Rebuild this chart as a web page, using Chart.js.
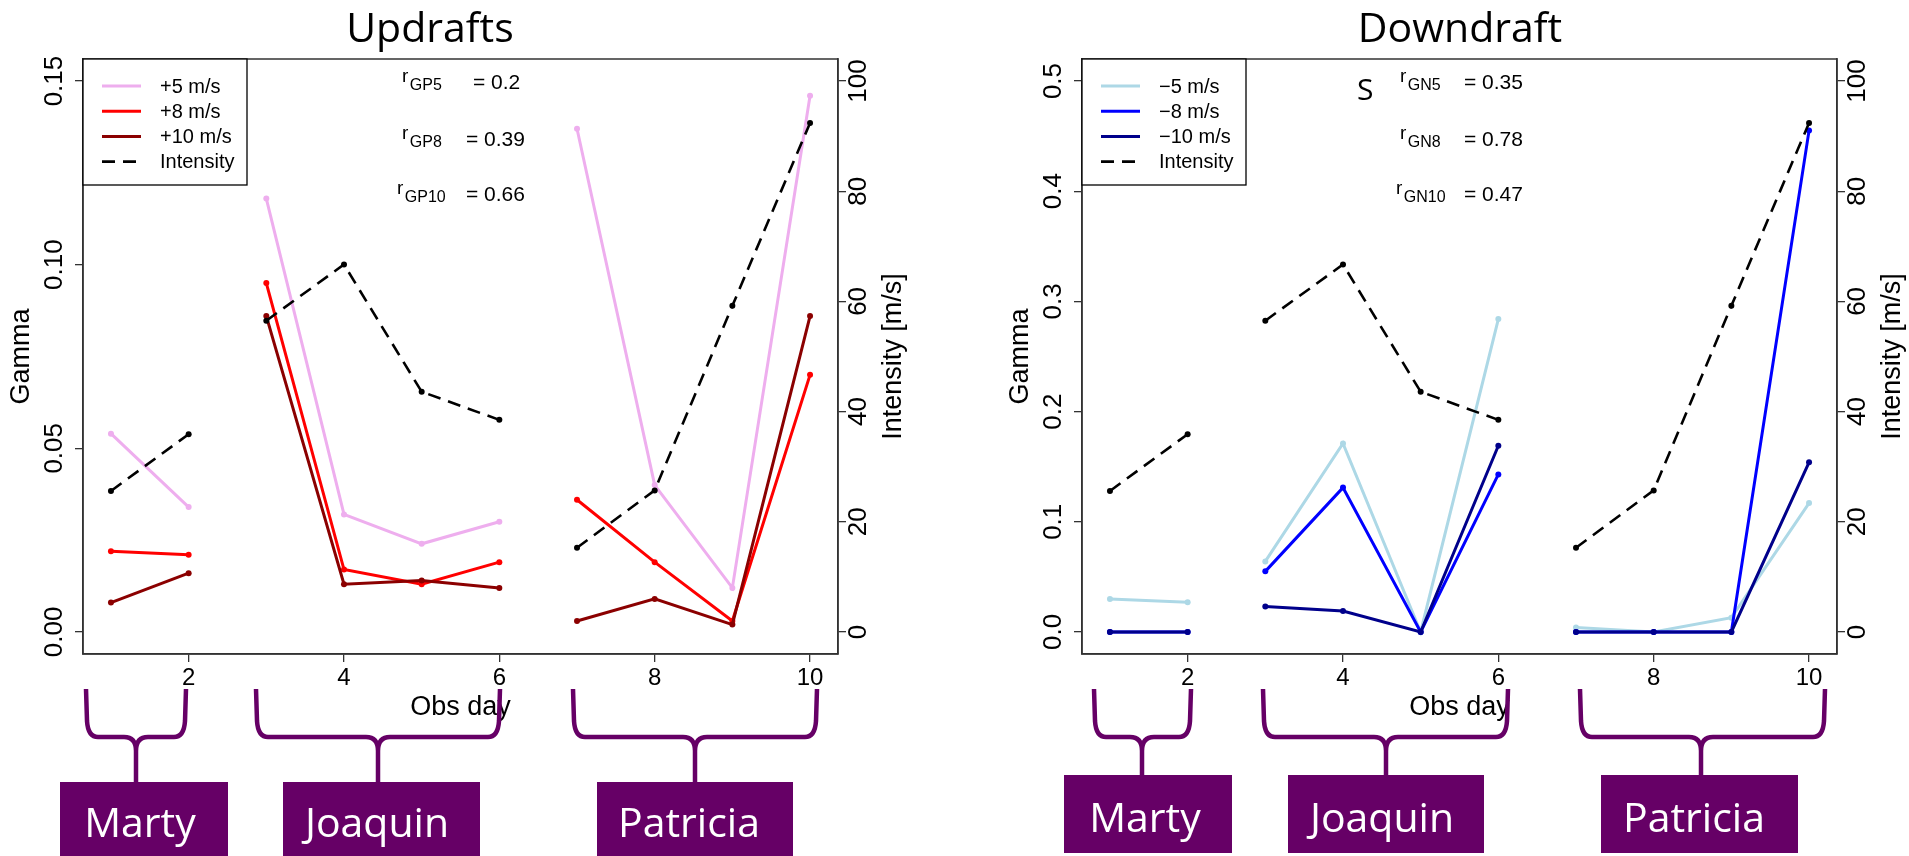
<!DOCTYPE html>
<html>
<head>
<meta charset="utf-8">
<title>Gamma vs intensity: updrafts and downdrafts</title>
<script src="https://cdn.jsdelivr.net/npm/chart.js@4.4.1/dist/chart.umd.min.js"></script>
<style>
  html, body { margin: 0; padding: 0; background: #fff; }
  body { position: relative; width: 1909px; height: 856px; overflow: hidden; }
  .panel { position: absolute; top: 0; }
  #overlay { position: absolute; left: 0; top: 0; pointer-events: none; }
</style>
</head>
<body>
<canvas class="panel" id="updrafts" width="910" height="856" style="left:0px"></canvas>
<canvas class="panel" id="downdrafts" width="910" height="856" style="left:999px"></canvas>
<svg id="overlay" width="1909" height="856" xmlns="http://www.w3.org/2000/svg"></svg>

<script>
// ---- observations ----
const obsDays = [1, 2, 3, 4, 5, 6, 7, 8, 9, 10];
const stormOfDay = ['Marty', 'Marty', 'Joaquin', 'Joaquin', 'Joaquin', 'Joaquin',
                    'Patricia', 'Patricia', 'Patricia', 'Patricia'];
const storms = ['Marty', 'Joaquin', 'Patricia'];

// storm intensity [m/s]
const intensity = [25.6, 35.9, 56.5, 66.7, 43.6, 38.5, 15.3, 25.7, 59.2, 92.4];

// gamma for updraft thresholds
const updraft5  = [0.054, 0.034, 0.118, 0.032, 0.024, 0.030, 0.137, 0.040, 0.012, 0.146];
const updraft8  = [0.022, 0.021, 0.095, 0.017, 0.013, 0.019, 0.036, 0.019, 0.003, 0.070];
const updraft10 = [0.008, 0.016, 0.086, 0.013, 0.014, 0.012, 0.003, 0.009, 0.002, 0.086];

// gamma for downdraft thresholds
const downdraft5  = [0.030, 0.027, 0.064, 0.171, 0.000, 0.284, 0.004, 0.000, 0.013, 0.117];
const downdraft8  = [0.000, 0.000, 0.055, 0.131, 0.000, 0.143, 0.000, 0.000, 0.000, 0.455];
const downdraft10 = [0.000, 0.000, 0.023, 0.019, 0.000, 0.169, 0.000, 0.000, 0.000, 0.154];

// correlation of gamma with intensity
const updraftCorrNames   = ['GP5', 'GP8', 'GP10'];
const updraftCorrValues  = ['0.2', '0.39', '0.66'];
const downdraftCorrNames  = ['GN5', 'GN8', 'GN10'];
const downdraftCorrValues = ['0.35', '0.78', '0.47'];

// axis ticks
const dayTicks = [2, 4, 6, 8, 10];
const updraftGammaTicks = [0, 0.05, 0.10, 0.15];
const downdraftGammaTicks = [0, 0.1, 0.2, 0.3, 0.4, 0.5];
const intensityTicks = [0, 20, 40, 60, 80, 100];

// ---- styling ----
const SANS = '"Liberation Sans", Arial, Helvetica, sans-serif';
const HUMANIST = '"Open Sans", Lato, sans-serif';
const PURPLE = '#660066';
const AXIS_GREY = '#333';

Chart.defaults.font.family = SANS;
Chart.defaults.color = '#000';

const points = values => obsDays.map((d, i) => ({ x: d, y: values[i] }));

// lines are only joined within the same storm
const stormSegments = {
  borderColor: ctx => stormOfDay[ctx.p0DataIndex] === stormOfDay[ctx.p1DataIndex]
    ? undefined : 'rgba(0,0,0,0)'
};

function gammaLine(label, values, color, order) {
  return {
    label, data: points(values), yAxisID: 'y',
    borderColor: color, backgroundColor: color, borderWidth: 3,
    pointRadius: 3, pointHoverRadius: 3, pointBorderWidth: 0,
    pointBackgroundColor: color, tension: 0, fill: false,
    order, segment: stormSegments
  };
}

function intensityLine() {
  return {
    label: 'Intensity', data: points(intensity), yAxisID: 'y1',
    borderColor: '#000', backgroundColor: '#000', borderWidth: 2.6,
    borderDash: [13, 8], pointRadius: 3, pointHoverRadius: 3,
    pointBorderWidth: 0, pointBackgroundColor: '#000', tension: 0,
    fill: false, order: 0, segment: stormSegments
  };
}

// frame, title, legend, correlation notes and right axis title
const panelDecor = {
  id: 'panelDecor',
  afterDatasetsDraw(chart, args, o) {
    const { ctx, chartArea: a } = chart;
    ctx.save();

    // plot frame
    ctx.strokeStyle = AXIS_GREY;
    ctx.lineWidth = 1.5;
    ctx.strokeRect(a.left, a.top, a.right - a.left, a.bottom - a.top);

    // panel title
    ctx.fillStyle = '#000';
    ctx.font = '41px ' + HUMANIST;
    ctx.textAlign = 'center';
    ctx.textBaseline = 'alphabetic';
    ctx.fillText(o.title, o.titleX, 42);

    // legend box in the top-left corner of the plot
    const lw = 164, lh = 126;
    ctx.fillStyle = '#fff';
    ctx.fillRect(a.left, a.top, lw, lh);
    ctx.strokeStyle = '#000';
    ctx.lineWidth = 1.3;
    ctx.strokeRect(a.left, a.top, lw, lh);
    ctx.font = '20px ' + SANS;
    ctx.textAlign = 'left';
    ctx.textBaseline = 'middle';
    chart.data.datasets.forEach((ds, i) => {
      const y = a.top + 27 + i * 25.2;
      ctx.strokeStyle = ds.borderColor;
      ctx.lineWidth = ds.borderWidth;
      ctx.setLineDash(ds.borderDash || []);
      ctx.beginPath();
      ctx.moveTo(a.left + 19, y);
      ctx.lineTo(a.left + 58, y);
      ctx.stroke();
      ctx.setLineDash([]);
      ctx.fillStyle = '#000';
      ctx.fillText(ds.label, a.left + 77, y + 1);
    });

    // correlation notes
    ctx.textBaseline = 'alphabetic';
    o.corrNames.forEach((name, i) => {
      const base = o.corrBase[i];
      const rx = o.corrRX[i];
      ctx.font = '19px ' + SANS;
      ctx.fillText('r', rx, base - 7);
      const rw = ctx.measureText('r').width;
      ctx.font = '16px ' + SANS;
      ctx.fillText(name, rx + rw + 1.5, base + 1);
      ctx.font = '21px ' + SANS;
      ctx.fillText('= ' + o.corrValues[i], o.corrEqX[i], base);
    });
    if (o.mark) {
      ctx.font = '30px ' + HUMANIST;
      ctx.fillText(o.mark.text, o.mark.x, o.mark.y);
    }

    // right axis title, reading bottom to top
    ctx.translate(894, (a.top + a.bottom) / 2);
    ctx.rotate(-Math.PI / 2);
    ctx.textAlign = 'center';
    ctx.textBaseline = 'middle';
    ctx.font = '27px ' + SANS;
    ctx.fillText(o.rightTitle, 0, 0);
    ctx.restore();
  }
};

function fixedTicks(list) {
  return scale => { scale.ticks = list.map(v => ({ value: v })); };
}

function panelOptions(gammaMin, gammaMax, gammaTicks, gammaDecimals, gammaPad, decor) {
  const tickGrid = {
    display: true, drawOnChartArea: false, drawTicks: true,
    tickLength: 8, color: AXIS_GREY, lineWidth: 1.3
  };
  return {
    responsive: false, animation: false, events: [],
    layout: { padding: { left: 0, right: 0, top: 59, bottom: 102 } },
    plugins: {
      legend: { display: false }, tooltip: { enabled: false },
      title: { display: false }, panelDecor: decor
    },
    scales: {
      x: {
        type: 'linear', position: 'bottom', min: 0.64, max: 10.36,
        afterBuildTicks: fixedTicks(dayTicks),
        afterFit: s => { s.height = 100; },
        grid: tickGrid,
        border: { display: true, color: AXIS_GREY, width: 1.5 },
        ticks: { font: { size: 24 }, color: '#000', padding: 2, maxRotation: 0, minRotation: 0 },
        title: { display: true, text: 'Obs day', font: { size: 27 }, color: '#000',
                 padding: { top: 0, bottom: 30 } }
      },
      y: {
        type: 'linear', position: 'left', min: gammaMin, max: gammaMax,
        afterBuildTicks: fixedTicks(gammaTicks),
        afterFit: s => { s.width = 83; },
        grid: tickGrid,
        border: { display: true, color: AXIS_GREY, width: 1.5 },
        ticks: { font: { size: 26 }, color: '#000', minRotation: 90, maxRotation: 90,
                 crossAlign: 'center', padding: gammaPad,
                 callback: v => Number(v).toFixed(gammaDecimals) },
        title: { display: true, text: 'Gamma', font: { size: 27 }, color: '#000',
                 padding: { top: 5, bottom: 0 } }
      },
      y1: {
        type: 'linear', position: 'right', min: -4, max: 104,
        afterBuildTicks: fixedTicks(intensityTicks),
        afterFit: s => { s.width = 72; },
        grid: tickGrid,
        border: { display: true, color: AXIS_GREY, width: 1.5 },
        ticks: { font: { size: 26 }, color: '#000', minRotation: 90, maxRotation: 90,
                 crossAlign: 'center', padding: -8.7, callback: v => String(v) },
        title: { display: false }
      }
    }
  };
}

new Chart(document.getElementById('updrafts'), {
  type: 'line',
  data: {
    datasets: [
      gammaLine('+5 m/s', updraft5, '#EEAEEE', 3),
      gammaLine('+8 m/s', updraft8, '#FF0000', 2),
      gammaLine('+10 m/s', updraft10, '#8B0000', 1),
      intensityLine()
    ]
  },
  options: panelOptions(-0.006, 0.156, updraftGammaTicks, 2, -5.3, {
    title: 'Updrafts', titleX: 430, rightTitle: 'Intensity [m/s]',
    corrNames: updraftCorrNames, corrValues: updraftCorrValues,
    corrBase: [89.3, 145.7, 201], corrRX: [402, 402, 397], corrEqX: [473, 466, 466]
  }),
  plugins: [panelDecor]
});

new Chart(document.getElementById('downdrafts'), {
  type: 'line',
  data: {
    datasets: [
      gammaLine('\u22125 m/s', downdraft5, '#ADD8E6', 3),
      gammaLine('\u22128 m/s', downdraft8, '#0000FF', 2),
      gammaLine('\u221210 m/s', downdraft10, '#00008B', 1),
      intensityLine()
    ]
  },
  options: panelOptions(-0.02, 0.52, downdraftGammaTicks, 1, 1.9, {
    title: 'Downdraft', titleX: 461, rightTitle: 'Intensity [m/s]',
    corrNames: downdraftCorrNames, corrValues: downdraftCorrValues,
    corrBase: [89.3, 145.7, 201], corrRX: [401, 401, 397], corrEqX: [465, 465, 465],
    mark: { text: 'S', x: 358, y: 100 }
  }),
  plugins: [panelDecor]
});

// ---- storm braces and name tags below both panels ----
const braceLayout = [
  { l: 86,   r: 186,  c: 136,  top: 689, mid: 737, bottom: 782 },
  { l: 256,  r: 500,  c: 378,  top: 689, mid: 737, bottom: 782 },
  { l: 573,  r: 817,  c: 695,  top: 689, mid: 737, bottom: 782 },
  { l: 1094, r: 1191, c: 1142, top: 689, mid: 737, bottom: 775 },
  { l: 1263, r: 1508, c: 1386, top: 689, mid: 737, bottom: 775 },
  { l: 1580, r: 1825, c: 1701, top: 689, mid: 737, bottom: 775 }
];
const tagLayout = [
  { x: 60,   w: 168, y: 782, h: 74, tx: 140,  base: 837 },
  { x: 283,  w: 197, y: 782, h: 74, tx: 377,  base: 837 },
  { x: 597,  w: 196, y: 782, h: 74, tx: 689,  base: 837 },
  { x: 1064, w: 168, y: 775, h: 78, tx: 1145, base: 832 },
  { x: 1288, w: 196, y: 775, h: 78, tx: 1382, base: 832 },
  { x: 1601, w: 197, y: 775, h: 78, tx: 1694, base: 832 }
];

const svg = document.getElementById('overlay');
const NS = 'http://www.w3.org/2000/svg';
function add(tag, attrs, text) {
  const el = document.createElementNS(NS, tag);
  for (const k in attrs) el.setAttribute(k, attrs[k]);
  if (text !== undefined) el.textContent = text;
  svg.appendChild(el);
  return el;
}

braceLayout.forEach(b => {
  const d =
    `M ${b.l} ${b.top} L ${b.l + 1} ${b.mid - 16} Q ${b.l + 2} ${b.mid} ${b.l + 12} ${b.mid} ` +
    `L ${b.c - 12} ${b.mid} Q ${b.c} ${b.mid} ${b.c} ${b.mid + 14} L ${b.c} ${b.bottom} ` +
    `M ${b.r} ${b.top} L ${b.r - 1} ${b.mid - 16} Q ${b.r - 2} ${b.mid} ${b.r - 12} ${b.mid} ` +
    `L ${b.c + 12} ${b.mid} Q ${b.c} ${b.mid} ${b.c} ${b.mid + 14}`;
  add('path', { d, fill: 'none', stroke: PURPLE, 'stroke-width': 4.5, 'stroke-linejoin': 'round' });
});

tagLayout.forEach((t, i) => {
  add('rect', { x: t.x, y: t.y, width: t.w, height: t.h, fill: PURPLE });
  add('text', {
    x: t.tx, y: t.base, 'text-anchor': 'middle', fill: '#fff',
    'font-family': 'Open Sans, Lato, sans-serif', 'font-size': 41
  }, storms[i % storms.length]);
});
</script>
</body>
</html>
